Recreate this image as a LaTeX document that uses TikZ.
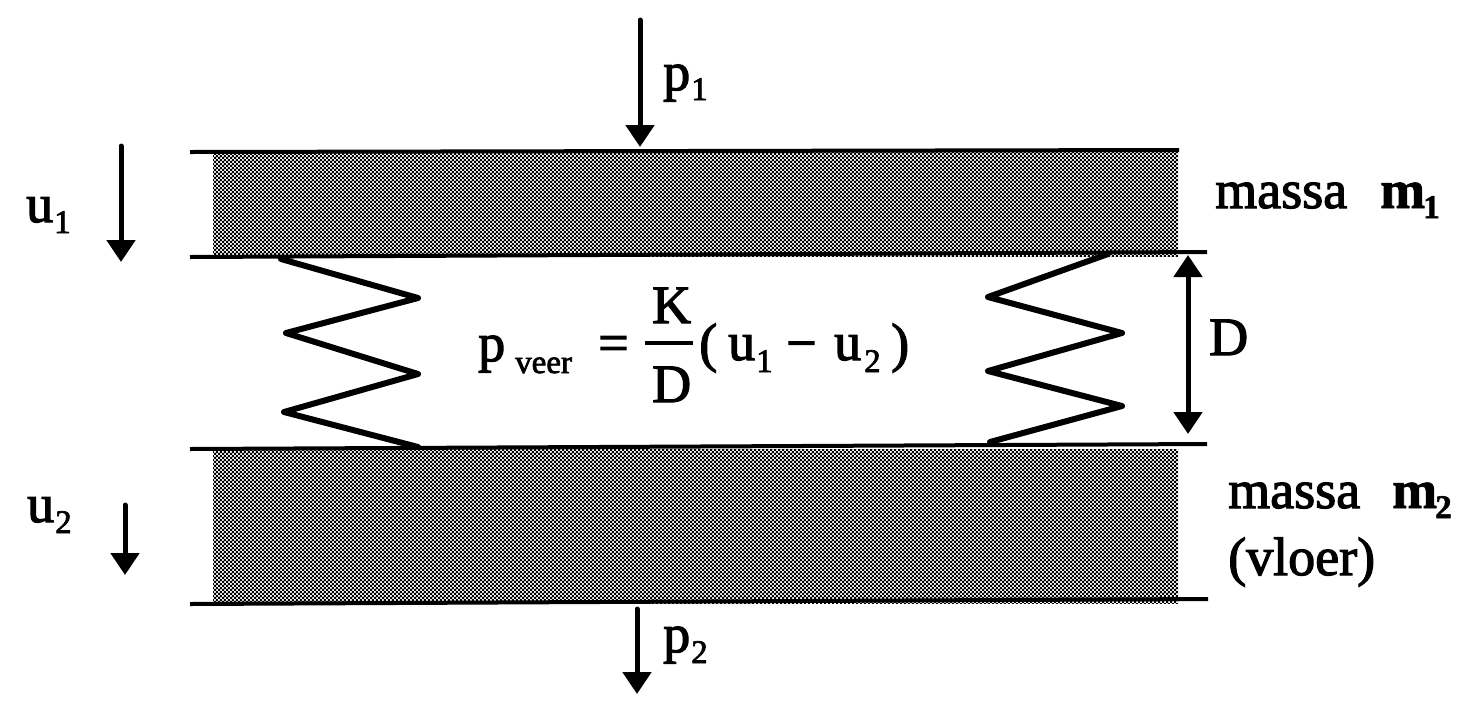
\documentclass[tikz,border=0pt]{standalone}
\usepackage{fontspec}
\setmainfont{Liberation Serif}[FakeBold=2.2,BoldFeatures={FakeBold=1.5}]
\usetikzlibrary{arrows.meta,patterns}
\pgfdeclarepatternformonly{dith}{\pgfqpoint{0pt}{0pt}}{\pgfqpoint{4.2pt}{4.2pt}}{\pgfqpoint{4.2pt}{4.2pt}}{
 \pgfpathrectangle{\pgfqpoint{0pt}{0pt}}{\pgfqpoint{2.6pt}{2.6pt}}
 \pgfpathrectangle{\pgfqpoint{2.1pt}{2.1pt}}{\pgfqpoint{2.6pt}{2.6pt}}
 \pgfusepath{fill}}
\tikzset{
 px/.style={x=1pt,y=-1pt},
 force/.style={draw=black,line width=5pt,line cap=round,-{Triangle[length=22pt,width=28pt]}},
 dimline/.style={draw=black,line width=5pt,{Triangle[length=22pt,width=28pt]}-{Triangle[length=22pt,width=28pt]}},
 plate/.style={pattern=dith,pattern color=black},
 edgeline/.style={draw=black,line width=4pt},
 springline/.style={draw=black,line width=6pt,line join=round,line cap=round},
 lab/.style={font=\fontsize{54pt}{54pt}\selectfont,inner sep=0pt,anchor=base west,text=black},
 sublab/.style={font=\fontsize{33pt}{33pt}\selectfont,inner sep=0pt,anchor=base west,text=black}
}
\begin{document}
\begin{tikzpicture}[px]
\useasboundingbox (0,0) rectangle (1480,716);
\fill[white] (0,0) rectangle (1480,716);
\coordinate (p1a) at (640,20); \coordinate (p1b) at (640,147);
\coordinate (u1a) at (121,146); \coordinate (u1b) at (121,262);
\coordinate (u2a) at (125,505); \coordinate (u2b) at (125,575);
\coordinate (p2a) at (637,609); \coordinate (p2b) at (637,694);
\coordinate (da) at (1188,255); \coordinate (db) at (1188,434);
\fill[plate] (213,152) rectangle (1178,256);
\fill[plate] (213,449) rectangle (1178,603);
\draw[edgeline] (190,152) -- (1179,150);
\draw[edgeline] (190,257) -- (1207,252);
\draw[edgeline] (190,449) -- (1207,444);
\draw[edgeline] (190,604) -- (1208,599);
\draw[force] (p1a) -- (p1b);
\draw[force] (u1a) -- (u1b);
\draw[force] (u2a) -- (u2b);
\draw[force] (p2a) -- (p2b);
\draw[dimline] (da) -- (db);
\draw[springline] (281,259) -- (418,298) -- (286,333) -- (418,374) -- (284,412) -- (418,447);
\draw[springline] (1108,254) -- (988,297) -- (1122,333) -- (988,371) -- (1122,406) -- (990,442);
\node[lab] (tp1) at (663,90) {p};
\node[sublab] (tp1s) at (691,100) {1};
\node[lab] (tu1) at (26,222) {u};
\node[sublab] (tu1s) at (54,233) {1};
\node[lab] (tu2) at (27,522) {u};
\node[sublab] (tu2s) at (55,533) {2};
\node[lab] (tp2) at (663,652) {p};
\node[sublab] (tp2s) at (691,663) {2};
\node[lab] (tm1) at (1215,208) {massa};
\node[lab,font=\fontsize{54pt}{54pt}\bfseries] (tm1b) at (1380,208) {m};
\node[sublab,font=\fontsize{33pt}{33pt}\bfseries] (tm1s) at (1423,218) {1};
\node[lab] (tm2) at (1228,508) {massa};
\node[lab,font=\fontsize{54pt}{54pt}\bfseries] (tm2b) at (1392,508) {m};
\node[sublab,font=\fontsize{33pt}{33pt}\bfseries] (tm2s) at (1435,518) {2};
\node[lab] (tv) at (1228,575) {(vloer)};
\node[lab] (tD) at (1209,355) {D};
\node[lab] (tf) at (478,361) {p};
\node[sublab] (tfs) at (515,373) {veer};
\node[lab] (teq) at (598,361) {=};
\node[lab] (tK) at (652,323) {K};
\node[lab] (tDb) at (652,402) {D};
\draw[line width=4pt] (645,343) -- (693,343);
\node[lab] (tlp) at (699,361) {(};
\node[lab] (tu) at (728,360) {u};
\node[sublab] (tus) at (756,372) {1};
\node[lab] (tmin) at (786,361) {−};
\node[lab] (tub) at (834,360) {u};
\node[sublab] (tubs) at (864,372) {2};
\node[lab] (trp) at (891,361) {)};
\end{tikzpicture}
\end{document}
